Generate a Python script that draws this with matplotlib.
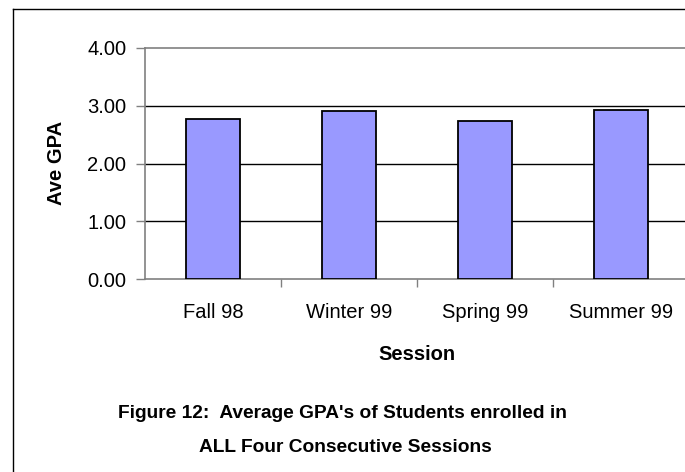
import matplotlib
matplotlib.use("Agg")
import matplotlib.pyplot as plt
from matplotlib.lines import Line2D

sessions = ["Fall 98", "Winter 99", "Spring 99", "Summer 99"]
ave_gpa = [2.76, 2.90, 2.73, 2.93]
yticks = [0, 1, 2, 3, 4]

plt.rcParams['font.family'] = ['Liberation Sans', 'DejaVu Sans']

W, H = 685, 472
fig = plt.figure(figsize=(W / 100, H / 100), dpi=100)

# outer chart frame (right and bottom edges fall outside the image)
fig.add_artist(Line2D([13 / W, 13 / W], [1 - 9 / H, -0.1], color='black', lw=1))
fig.add_artist(Line2D([13 / W, 1.1], [1 - 9 / H, 1 - 9 / H], color='black', lw=1))

left, right = 145 / W, 689 / W
top, bottom = 1 - 47.7 / H, 1 - 279.3 / H
ax = fig.add_axes([left, bottom, right - left, top - bottom])

x = list(range(len(sessions)))
ax.bar(x, ave_gpa, width=0.4, color='#9999ff', edgecolor='black', linewidth=1.3, zorder=3)

ax.set_ylim(0, 4)
ax.set_xlim(-0.5, len(sessions) - 0.5)
ax.set_yticks(yticks)
ax.set_yticklabels([f"{v:.2f}" for v in yticks], fontsize=14.5)
for v in yticks[1:-1]:
    ax.axhline(v, color='black', lw=1, zorder=1)

# ticks between categories, labels centred under bars
ax.set_xticks([i + 0.5 for i in x[:-1]])
ax.set_xticklabels([])
ax.set_xticks(x, minor=True)
ax.set_xticklabels(sessions, minor=True, fontsize=14.5)
ax.tick_params(axis='x', which='minor', length=0, pad=17)
ax.tick_params(axis='x', which='major', length=6, width=1, color='#808080')
ax.tick_params(axis='y', length=6.5, width=1, color='#808080', pad=7)

for s in ['left', 'bottom', 'top']:
    ax.spines[s].set_color('#808080')
    ax.spines[s].set_linewidth(1.2)
ax.spines['right'].set_visible(False)

fig.text(56.5 / W, 1 - 163 / H, "Ave GPA", rotation=90, fontsize=14.5, fontweight='bold',
         ha='center', va='center')
fig.text(417 / W, 1 - 354 / H, "Session", fontsize=14.5, fontweight='bold',
         ha='center', va='center')
fig.text(342 / W, 1 - 414 / H, "Figure 12:  Average GPA's of Students enrolled in",
         fontsize=13.8, fontweight='bold', ha='center', va='center')
fig.text(345 / W, 1 - 447 / H, "ALL Four Consecutive Sessions",
         fontsize=13.8, fontweight='bold', ha='center', va='center')

fig.savefig("out.png", dpi=100)
